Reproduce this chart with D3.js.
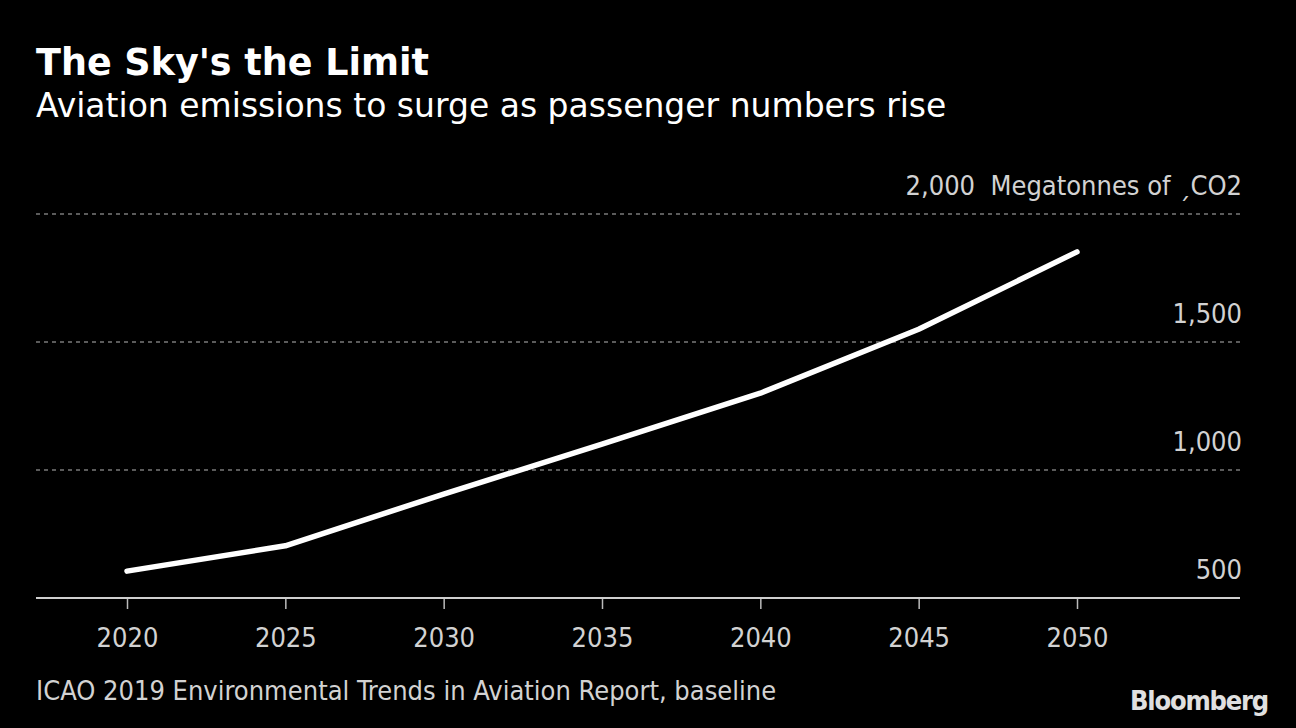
<!DOCTYPE html>
<html>
<head>
<meta charset="utf-8">
<script src="https://cdn.jsdelivr.net/npm/d3@7"></script>
<style>
  html, body { margin: 0; padding: 0; background: #000; }
  svg { display: block; }
</style>
</head>
<body>
<div id="chart"></div>
<script>
// Chart data
const years = [2020, 2025, 2030, 2035, 2040, 2045, 2050];
const emissions = [605, 704, 906, 1101, 1300, 1550, 1852];
const yTicks = [500, 1000, 1500, 2000];
const yTickLabels = ['500', '1,000', '1,500', '2,000'];

const width = 1296;
const height = 728;
const LINE_WHITE = '#fff';
const LABEL_GRAY = '#d2d2d2';
const GRID_GRAY = '#7a7a7a';
const SANS = '"DejaVu Sans", sans-serif';
const CONDENSED = '"DejaVu Sans Condensed", "DejaVu Sans", sans-serif';

const svg = d3.select('#chart').append('svg')
  .attr('width', width)
  .attr('height', height)
  .attr('font-family', CONDENSED);

svg.append('rect')
  .attr('width', width)
  .attr('height', height)
  .attr('fill', '#000');

// plot frame
const plotLeft = 36, plotRight = 1240, plotTop = 214, plotBottom = 598;

const x = d3.scaleLinear().domain([2020, 2050]).range([127, 1077]);
const y = d3.scaleLinear().domain([500, 2000]).range([plotBottom, plotTop]);

// titles
svg.append('text')
  .attr('x', 36).attr('y', 75)
  .attr('fill', '#fff')
  .attr('font-size', 36.5)
  .attr('font-weight', 'bold')
  .attr('font-family', SANS)
  .text("The Sky's the Limit");

svg.append('text')
  .attr('x', 36).attr('y', 117)
  .attr('fill', '#fff')
  .attr('font-size', 33)
  .attr('font-family', SANS)
  .text('Aviation emissions to surge as passenger numbers rise');

// gridlines (skip the baseline value)
svg.append('g')
  .selectAll('line')
  .data(yTicks.filter(d => d > 500))
  .enter()
  .append('line')
  .attr('x1', plotLeft).attr('x2', plotRight)
  .attr('y1', d => y(d)).attr('y2', d => y(d))
  .attr('stroke', GRID_GRAY)
  .attr('stroke-width', 1.5)
  .attr('stroke-dasharray', '4,4');

// y labels sit above their gridline, right aligned
svg.append('g')
  .selectAll('text')
  .data(yTicks)
  .enter()
  .append('text')
  .attr('x', plotRight + 2)
  .attr('y', d => y(d) - 19)
  .attr('text-anchor', 'end')
  .attr('fill', LABEL_GRAY)
  .attr('font-size', 27)
  .text((d, i) => i === yTicks.length - 1
    ? `${yTickLabels[i]}\u00a0\u00a0Megatonnes of \u02CFCO2`
    : yTickLabels[i]);

// x axis
const xAxis = d3.axisBottom(x)
  .tickValues(years)
  .tickFormat(d3.format('d'))
  .tickSize(11)
  .tickPadding(19);

const axisG = svg.append('g')
  .attr('transform', `translate(0,${plotBottom})`)
  .call(xAxis)
  .attr('font-family', CONDENSED);

axisG.select('.domain').remove();
axisG.selectAll('.tick line')
  .attr('stroke', '#bbb')
  .attr('stroke-width', 1.5);
axisG.selectAll('.tick text')
  .attr('fill', LABEL_GRAY)
  .attr('font-size', 27);

svg.append('line')
  .attr('x1', plotLeft).attr('x2', plotRight)
  .attr('y1', plotBottom).attr('y2', plotBottom)
  .attr('stroke', '#cfcfcf')
  .attr('stroke-width', 2);

// emissions line
const line = d3.line()
  .x((d, i) => x(years[i]))
  .y(d => y(d));

svg.append('path')
  .datum(emissions)
  .attr('d', line)
  .attr('fill', 'none')
  .attr('stroke', LINE_WHITE)
  .attr('stroke-width', 5.5)
  .attr('stroke-linecap', 'round')
  .attr('stroke-linejoin', 'round');

// footer
svg.append('text')
  .attr('x', 36).attr('y', 700)
  .attr('fill', LABEL_GRAY)
  .attr('font-size', 27)
  .text('ICAO 2019 Environmental Trends in Aviation Report, baseline');

svg.append('text')
  .attr('x', 1268).attr('y', 710)
  .attr('text-anchor', 'end')
  .attr('fill', '#e0e0e0')
  .attr('font-size', 27)
  .attr('font-weight', 'bold')
  .attr('letter-spacing', -1.2)
  .text('Bloomberg');
</script>
</body>
</html>
